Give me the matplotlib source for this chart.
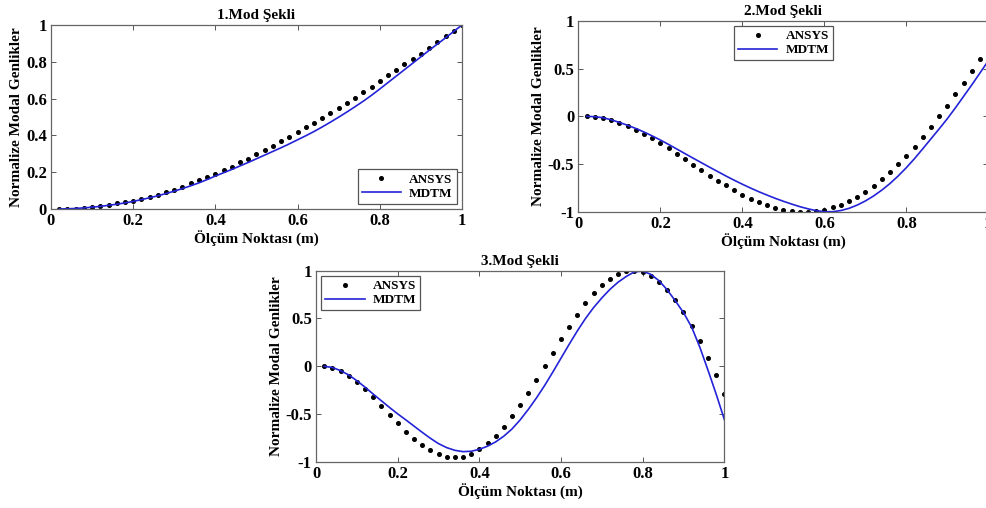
import matplotlib
matplotlib.use("Agg")
import matplotlib.pyplot as plt

# measurement points (m)
x = [0.02, 0.04, 0.06, 0.08, 0.10, 0.12, 0.14, 0.16, 0.18, 0.20,
     0.22, 0.24, 0.26, 0.28, 0.30, 0.32, 0.34, 0.36, 0.38, 0.40,
     0.42, 0.44, 0.46, 0.48, 0.50, 0.52, 0.54, 0.56, 0.58, 0.60,
     0.62, 0.64, 0.66, 0.68, 0.70, 0.72, 0.74, 0.76, 0.78, 0.80,
     0.82, 0.84, 0.86, 0.88, 0.90, 0.92, 0.94, 0.96, 0.98, 1.00]

# mode 1
ansys1 = [0.000, 0.000, 0.002, 0.005, 0.010, 0.015, 0.020, 0.030, 0.037, 0.045,
          0.055, 0.065, 0.078, 0.090, 0.105, 0.120, 0.140, 0.155, 0.172, 0.190,
          0.210, 0.230, 0.255, 0.273, 0.297, 0.320, 0.343, 0.369, 0.392, 0.416,
          0.443, 0.470, 0.495, 0.523, 0.550, 0.578, 0.605, 0.635, 0.665, 0.695,
          0.727, 0.757, 0.787, 0.815, 0.845, 0.877, 0.907, 0.938, 0.970, 1.000]
mdtm1 = [0.000, 0.001, 0.003, 0.006, 0.010, 0.014, 0.020, 0.026, 0.033, 0.041,
         0.051, 0.061, 0.072, 0.084, 0.097, 0.111, 0.126, 0.142, 0.160, 0.179,
         0.197, 0.215, 0.234, 0.253, 0.273, 0.293, 0.313, 0.333, 0.354, 0.376,
         0.398, 0.421, 0.446, 0.472, 0.499, 0.527, 0.556, 0.586, 0.618, 0.652,
         0.687, 0.722, 0.757, 0.792, 0.827, 0.862, 0.896, 0.930, 0.965, 1.000]

# mode 2
ansys2 = [0.000, -0.005, -0.017, -0.038, -0.066, -0.100, -0.140, -0.185, -0.230, -0.282,
          -0.336, -0.392, -0.450, -0.508, -0.564, -0.619, -0.672, -0.723, -0.772, -0.818,
          -0.860, -0.898, -0.930, -0.957, -0.978, -0.992, -0.999, -0.999, -0.991, -0.975,
          -0.952, -0.922, -0.885, -0.840, -0.788, -0.728, -0.660, -0.585, -0.502, -0.412,
          -0.316, -0.215, -0.109, 0.000, 0.113, 0.230, 0.350, 0.473, 0.597, 0.722]
mdtm2 = [0.000, -0.004, -0.015, -0.036, -0.064, -0.094, -0.127, -0.164, -0.205, -0.248,
         -0.294, -0.342, -0.390, -0.438, -0.485, -0.532, -0.578, -0.624, -0.668, -0.710,
         -0.750, -0.788, -0.823, -0.857, -0.888, -0.917, -0.944, -0.967, -0.986, -0.997,
         -0.997, -0.985, -0.962, -0.928, -0.885, -0.833, -0.772, -0.703, -0.624, -0.537,
         -0.442, -0.340, -0.236, -0.132, -0.025, 0.090, 0.210, 0.330, 0.455, 0.580]

# mode 3
ansys3 = [0.000, -0.014, -0.049, -0.100, -0.164, -0.240, -0.320, -0.415, -0.505, -0.596,
          -0.683, -0.760, -0.822, -0.878, -0.920, -0.944, -0.951, -0.944, -0.913, -0.868,
          -0.805, -0.725, -0.634, -0.523, -0.408, -0.275, -0.139, 0.000, 0.139, 0.282,
          0.415, 0.540, 0.659, 0.763, 0.850, 0.916, 0.965, 0.997, 1.000, 0.983,
          0.948, 0.882, 0.801, 0.693, 0.568, 0.422, 0.265, 0.087, -0.094, -0.289]
mdtm3 = [0.000, -0.012, -0.045, -0.090, -0.150, -0.218, -0.290, -0.360, -0.430, -0.497,
         -0.560, -0.625, -0.690, -0.752, -0.808, -0.850, -0.878, -0.892, -0.888, -0.868,
         -0.835, -0.790, -0.730, -0.655, -0.560, -0.450, -0.330, -0.200, -0.060, 0.085,
         0.230, 0.370, 0.500, 0.615, 0.715, 0.805, 0.880, 0.940, 0.988, 0.995,
         0.962, 0.895, 0.800, 0.685, 0.562, 0.410, 0.200, -0.040, -0.290, -0.555]

xticks = [0, 0.2, 0.4, 0.6, 0.8, 1]
xticklabels = ['0', '0.2', '0.4', '0.6', '0.8', '1']
yticks1 = [0, 0.2, 0.4, 0.6, 0.8, 1]
yticklabels1 = ['0', '0.2', '0.4', '0.6', '0.8', '1']
yticks2 = [-1, -0.5, 0, 0.5, 1]
yticklabels2 = ['-1', '-0.5', '0', '0.5', '1']

titles = ['1.Mod Şekli', '2.Mod Şekli', '3.Mod Şekli']
xlabel = 'Ölçüm Noktası (m)'
ylabel = 'Normalize Modal Genlikler'

plt.rcParams['font.family'] = ['Liberation Serif', 'DejaVu Serif']
plt.rcParams['font.weight'] = 'bold'
plt.rcParams['axes.titleweight'] = 'bold'
plt.rcParams['axes.labelweight'] = 'bold'

fig = plt.figure(figsize=(9.86, 5.08), dpi=100)
ax1 = fig.add_axes([0.0517, 0.5886, 0.4168, 0.3622])
ax2 = fig.add_axes([0.5867, 0.5827, 0.4156, 0.3766])
ax3 = fig.add_axes([0.3205, 0.0906, 0.4141, 0.3766])

blue = '#2323d8'
setups = [
    (ax1, ansys1, mdtm1, (0, 1), yticks1, yticklabels1, 'lower right'),
    (ax2, ansys2, mdtm2, (-1, 1), yticks2, yticklabels2, 'upper center'),
    (ax3, ansys3, mdtm3, (-1, 1), yticks2, yticklabels2, 'upper left'),
]

for i, (ax, a, m, ylim, yt, ytl, loc) in enumerate(setups):
    ax.plot(x, a, linestyle='none', marker='o', ms=2.6, color='black', label='ANSYS')
    ax.plot(x, m, color=blue, lw=1.2, label='MDTM')
    ax.set_xlim(0, 1)
    ax.set_ylim(*ylim)
    ax.set_xticks(xticks)
    ax.set_xticklabels(xticklabels)
    ax.set_yticks(yt)
    ax.set_yticklabels(ytl)
    ax.tick_params(direction='in', top=True, right=True, length=3.5, width=0.7,
                   color='#555555', labelsize=12, pad=3)
    for s in ax.spines.values():
        s.set_color('#666666')
        s.set_linewidth(0.9)
    ax.set_title(titles[i], fontsize=11, pad=4)
    ax.set_xlabel(xlabel, fontsize=11, labelpad=1)
    ax.set_ylabel(ylabel, fontsize=11, labelpad=2)
    leg = ax.legend(loc=loc, fontsize=9.5, handlelength=3.0, fancybox=False,
                    framealpha=1, edgecolor='#555555', borderpad=0.3,
                    labelspacing=0.15, handletextpad=0.6, borderaxespad=0.4)
    leg.get_frame().set_linewidth(0.9)

fig.savefig('out.png', dpi=100)
